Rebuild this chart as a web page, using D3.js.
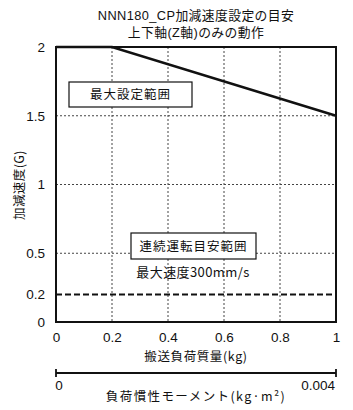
<!DOCTYPE html>
<html><head><meta charset="utf-8">
<script src="https://cdn.jsdelivr.net/npm/d3@7/dist/d3.min.js"></script>
<style>body{margin:0;background:#fff}svg{display:block}text{font-family:"Noto Sans CJK JP","Liberation Sans",sans-serif;fill:#111}</style>
</head><body><svg id="c" width="353" height="410"></svg>
<script>
const titleLines = ["NNN180_CP加減速度設定の目安", "上下軸(Z軸)のみの動作"];
const xTicks = [0, 0.2, 0.4, 0.6, 0.8, 1];
const yTicks = [0, 0.2, 0.5, 1, 1.5, 2];
const yGrid = [0.5, 1, 1.5];
const massX = [0, 0.2, 1];
const maxAccel = [2, 2, 1.5];
const continuousLimit = 0.2;
const xLabel = "搬送負荷質量(kg)";
const yLabel = "加減速度(G)";
const inertiaTicks = [0, 0.004];
const inertiaTickLabels = ["0", "0.004"];
const inertiaLabel = "負荷慣性モーメント(kg·m²)";
const regionMax = "最大設定範囲";
const regionCont = "連続運転目安範囲";
const speedNote = "最大速度300mm/s";

const svg = d3.select("#c");
const L = 56, R = 336, T = 47, B = 322;
const x = d3.scaleLinear().domain([0, 1]).range([L, R]);
const y = d3.scaleLinear().domain([0, 2]).range([B, T]);
const x2 = d3.scaleLinear().domain([0, 0.004]).range([L, R]);

// title
svg.selectAll(".title").data(titleLines).join("text")
  .attr("x", 196).attr("y", (d, i) => 20 + i * 16.5)
  .attr("text-anchor", "middle").attr("font-size", 12.8).attr("letter-spacing", 0.4)
  .style("font-family", '"Liberation Sans","Noto Sans CJK JP",sans-serif').text(d => d);

// grid
const g = svg.append("g");
g.selectAll(".vg").data(xTicks.slice(1, -1)).join("line")
  .attr("x1", d => x(d)).attr("x2", d => x(d)).attr("y1", T).attr("y2", B)
  .attr("stroke", "#444").attr("stroke-width", 1).attr("stroke-dasharray", "2,2");
g.selectAll(".hg").data(yGrid).join("line")
  .attr("x1", L).attr("x2", R).attr("y1", d => y(d)).attr("y2", d => y(d))
  .attr("stroke", "#444").attr("stroke-width", 1).attr("stroke-dasharray", "2,2");

// continuous limit dashed
svg.append("line").attr("x1", L).attr("x2", R)
  .attr("y1", y(continuousLimit)).attr("y2", y(continuousLimit))
  .attr("stroke", "#111").attr("stroke-width", 2).attr("stroke-dasharray", "6,3");

// frame
svg.append("rect").attr("x", L).attr("y", T).attr("width", R - L).attr("height", B - T)
  .attr("fill", "none").attr("stroke", "#111").attr("stroke-width", 2);

// max line
svg.append("path").datum(massX.map((m, i) => [m, maxAccel[i]]))
  .attr("d", d3.line().x(d => x(d[0])).y(d => y(d[1])))
  .attr("fill", "none").attr("stroke", "#111").attr("stroke-width", 2.5);

// axes (labels only)
const xAxis = d3.axisBottom(x).tickValues(xTicks).tickSize(0).tickPadding(10)
  .tickFormat(d3.format("~g"));
const xa = svg.append("g").attr("transform", `translate(0,${B})`).call(xAxis);
xa.select(".domain").remove();
xa.selectAll("text").attr("font-size", 13.5).attr("fill", "#111")
  .style("font-family", '"Liberation Sans",sans-serif');

const yAxis = d3.axisLeft(y).tickValues(yTicks).tickSize(0).tickPadding(11)
  .tickFormat(d3.format("~g"));
const ya = svg.append("g").attr("transform", `translate(${L},0)`).call(yAxis);
ya.select(".domain").remove();
ya.selectAll("text").attr("font-size", 13.5).attr("fill", "#111")
  .style("font-family", '"Liberation Sans",sans-serif');

svg.append("text").attr("x", 196).attr("y", 361).attr("text-anchor", "middle")
  .attr("font-size", 12.5).attr("letter-spacing", 0.6).text(xLabel);
svg.append("text").attr("transform", "translate(24,185) rotate(-90)")
  .attr("text-anchor", "middle").attr("font-size", 12.5).attr("letter-spacing", 0.4).text(yLabel);

// region boxes
function box(cx, cy, w, h, label) {
  svg.append("rect").attr("x", cx - w / 2).attr("y", cy - h / 2).attr("width", w).attr("height", h)
    .attr("fill", "#fff").attr("stroke", "#111").attr("stroke-width", 1.2);
  svg.append("text").attr("x", cx).attr("y", cy + 4.5).attr("text-anchor", "middle")
    .attr("font-size", 12.5).attr("letter-spacing", 1).text(label);
}
box(130.5, 94.5, 123, 25, regionMax);
box(193.5, 246, 125, 26, regionCont);
svg.append("text").attr("x", 193).attr("y", 277).attr("text-anchor", "middle")
  .attr("font-size", 13).attr("letter-spacing", 0.4).text(speedNote);

// inertia axis
const ia = svg.append("g").attr("transform", "translate(0,373)");
ia.append("line").attr("x1", x2(0)).attr("x2", x2(0.004)).attr("stroke", "#111").attr("stroke-width", 1.8);
ia.selectAll(".it").data(inertiaTicks).join("line")
  .attr("x1", d => x2(d)).attr("x2", d => x2(d)).attr("y1", -4).attr("y2", 4)
  .attr("stroke", "#111").attr("stroke-width", 1.8);
ia.selectAll(".il").data(inertiaTicks).join("text")
  .attr("x", (d, i) => i === 0 ? x2(d) + 3 : x2(d) - 1)
  .attr("y", 17).attr("text-anchor", (d, i) => i === 0 ? "middle" : "end")
  .attr("font-size", 13.5).style("font-family", '"Liberation Sans",sans-serif')
  .text((d, i) => inertiaTickLabels[i]);
svg.append("text").attr("x", 196).attr("y", 401).attr("text-anchor", "middle")
  .attr("font-size", 12.5).attr("letter-spacing", 1.4).text(inertiaLabel);
</script></body></html>
